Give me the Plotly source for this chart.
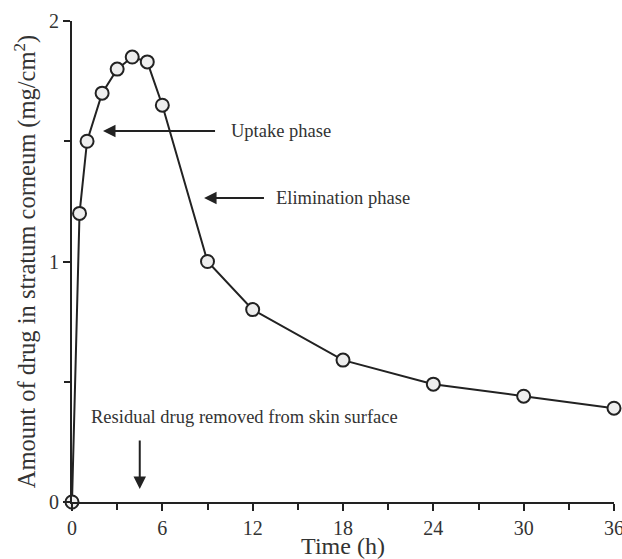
import plotly.graph_objects as go

time_h = [0, 0.5, 1, 2, 3, 4, 5, 6, 9, 12, 18, 24, 30, 36]
amount = [0.0, 1.20, 1.50, 1.70, 1.80, 1.85, 1.83, 1.65, 1.00, 0.80, 0.59, 0.49, 0.44, 0.39]
x_ticks = [0, 6, 12, 18, 24, 30, 36]
y_ticks = [0, 1, 2]

FONT = "Liberation Serif"
TXT = "#333333"
LINE = "#222222"

fig = go.Figure()
fig.add_trace(go.Scatter(
    x=time_h, y=amount, mode="lines+markers",
    line=dict(color=LINE, width=2),
    marker=dict(size=13, color="#eeeeee", line=dict(color=LINE, width=2)),
    cliponaxis=False, showlegend=False,
))

axis_common = dict(
    showline=True, linecolor=LINE, linewidth=2, showgrid=False, zeroline=False,
    ticks="outside", ticklen=7, tickwidth=2, tickcolor=LINE, automargin=False,
    ticklabeloverflow="allow",
    tickfont=dict(family=FONT, size=20, color=TXT),
)

fig.update_xaxes(
    range=[0, 36], tickvals=x_ticks, ticktext=[str(v) for v in x_ticks],
    minor=dict(dtick=3, tick0=0, ticks="outside", ticklen=6, tickwidth=2, tickcolor=LINE),
    title=dict(text="Time (h)", font=dict(family=FONT, size=24, color=TXT), standoff=3),
    **axis_common,
)
fig.update_yaxes(
    range=[0, 2], tickvals=y_ticks, ticktext=[str(v) for v in y_ticks],
    minor=dict(dtick=0.5, tick0=0, ticks="outside", ticklen=6, tickwidth=2, tickcolor=LINE),
    title=dict(text="Amount of drug in stratum corneum (mg/cm<sup>2</sup>)",
               font=dict(family=FONT, size=24.5, color=TXT), standoff=6),
    **axis_common,
)

arrow = dict(showarrow=True, arrowhead=2, arrowsize=1.25, arrowwidth=2, arrowcolor=LINE,
             axref="x", ayref="y", xref="x", yref="y", text=" ")
# Uptake phase
fig.add_annotation(x=2.06, y=1.543, ax=9.7, ay=1.543, **arrow)
fig.add_annotation(x=10.4, y=1.543, text="Uptake phase", showarrow=False,
                   xanchor="left", yanchor="middle",
                   font=dict(family=FONT, size=18.5, color=TXT))
# Elimination phase
fig.add_annotation(x=8.77, y=1.264, ax=12.95, ay=1.264, **arrow)
fig.add_annotation(x=13.4, y=1.264, text="Elimination phase", showarrow=False,
                   xanchor="left", yanchor="middle",
                   font=dict(family=FONT, size=18.5, color=TXT))
# Residual drug removed
fig.add_annotation(x=4.5, y=0.054, ax=4.5, ay=0.291, **arrow)
fig.add_annotation(x=11.45, y=0.353, text="Residual drug removed from skin surface",
                   showarrow=False, xanchor="center", yanchor="middle",
                   font=dict(family=FONT, size=18.5, color=TXT))

fig.update_layout(
    width=622, height=559,
    margin=dict(l=72, r=8, t=21, b=57),
    plot_bgcolor="white", paper_bgcolor="white",
    font=dict(family=FONT, color=TXT),
)

fig.write_html(
    "out.html",
    config={"displayModeBar": False},
    post_script="document.body.style.margin='0';document.body.style.overflow='hidden';",
)
